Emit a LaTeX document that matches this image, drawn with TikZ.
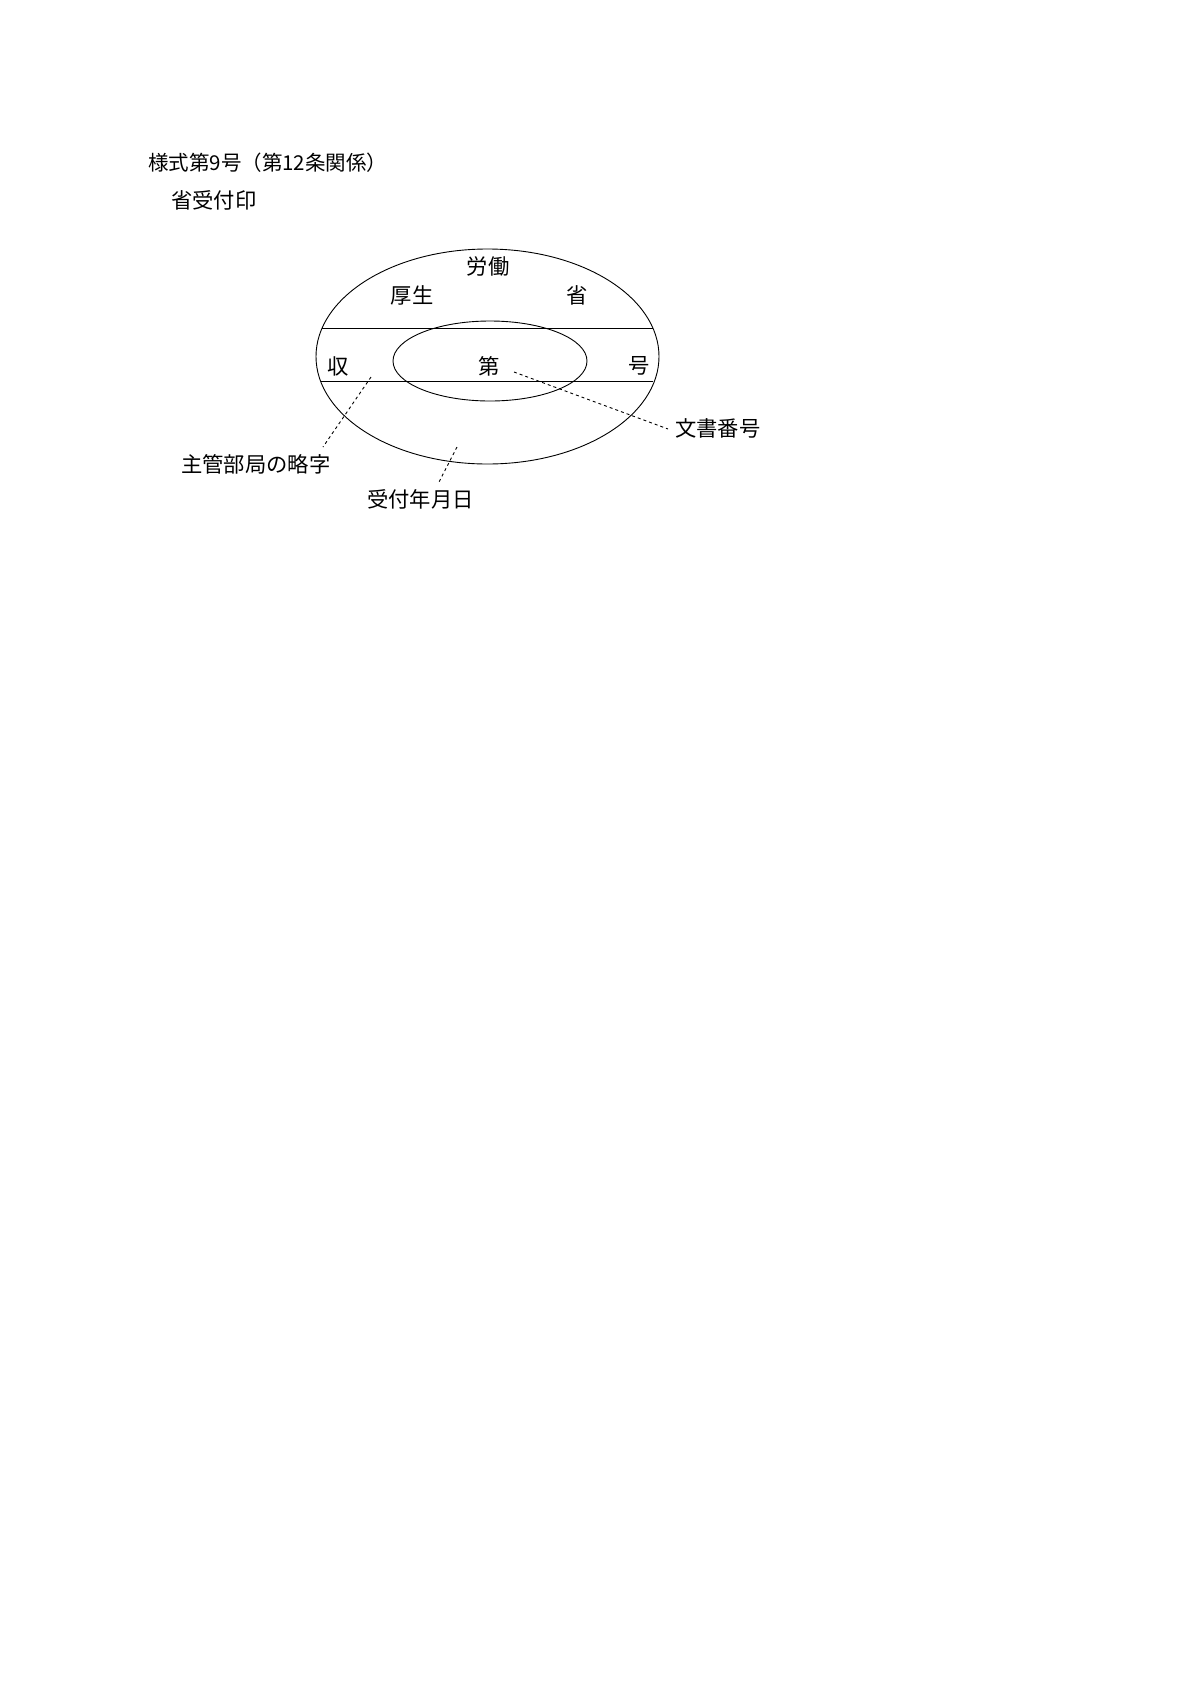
\documentclass[tikz,border=0pt]{standalone}
\usepackage{fontspec}
\setmainfont{Noto Sans CJK JP}
\begin{document}
\begin{tikzpicture}[x=1pt,y=-1pt,
  lbl/.style={inner sep=0pt,font=\fontsize{21.3}{23}\selectfont},
  ttl/.style={inner sep=0pt,font=\fontsize{20.5}{22}\selectfont},
  seal/.style={line width=0.9pt,black},
  leader/.style={line width=0.9pt,dash pattern=on 3pt off 3pt}]
\fill[white] (0,0) rectangle (1181,1695);
\useasboundingbox (0,0) rectangle (1181,1695);
% headings
\node[ttl,anchor=west] (title) at (148,163) {様式第9号（第12条関係）};
\node[lbl,anchor=west] (sub) at (171,200) {省受付印};
% seal
\draw[seal] (487.5,356.5) ellipse [x radius=171.5pt, y radius=107.5pt];
\draw[seal] (490,361) ellipse [x radius=97pt, y radius=40pt];
\coordinate (t1) at (322,328);
\coordinate (t2) at (653,328);
\coordinate (b1) at (321,381);
\coordinate (b2) at (653,381);
\draw[seal] (t1) -- (t2);
\draw[seal] (b1) -- (b2);
% seal texts
\node[lbl] (rodo) at (488,266) {労働};
\node[lbl] (kosei) at (412,295) {厚生};
\node[lbl] (sho) at (577,295) {省};
\node[lbl] (shu) at (338,366) {収};
\node[lbl] (dai) at (489,366) {第};
\node[lbl] (go) at (639,366) {号};
% labels
\node[lbl,anchor=west] (bunsho) at (675,428) {文書番号};
\node[lbl,anchor=west] (kanbu) at (181,464) {主管部局の略字};
\node[lbl,anchor=west] (uketsuke) at (367,499) {受付年月日};
% leaders
\coordinate (l1s) at (514,372);
\coordinate (l1e) at (668,429);
\coordinate (l2s) at (371,377);
\coordinate (l2e) at (323,447);
\coordinate (l3s) at (457,447);
\coordinate (l3e) at (439,482);
\draw[leader] (l1s) -- (l1e);
\draw[leader] (l2s) -- (l2e);
\draw[leader] (l3s) -- (l3e);
\end{tikzpicture}
\end{document}
